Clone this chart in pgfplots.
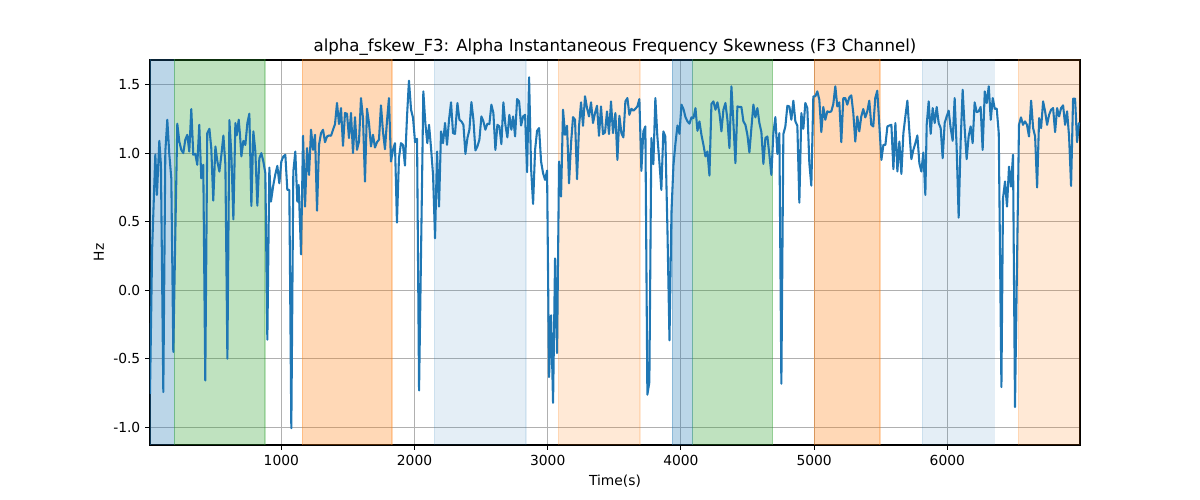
\documentclass[border=0pt]{standalone}
\usepackage{pgfplots}
\pgfplotsset{compat=1.18}
\usepackage{fontspec}
\setmainfont{DejaVu Sans}
\definecolor{tabblue}{HTML}{1F77B4}
\definecolor{taborange}{HTML}{FF7F0E}
\definecolor{tabgreen}{HTML}{2CA02C}
\definecolor{gridgray}{HTML}{B0B0B0}
\pgfplotstableread{
x y
14 -0.756
30 0.30
54 0.99
66 0.695
84 1.09
96 0.915
114 -0.744
129 1.01
144 1.244
159 0.99
174 0.817
189 -0.451
204 0.40
219 1.215
234 1.085
249 1.024
264 1.0
279 1.098
294 1.134
309 1.012
324 1.322
339 0.988
354 0.995
369 0.915
384 1.207
399 0.817
414 0.915
429 -0.659
444 1.146
460 1.178
474 1.037
489 0.654
505 1.049
520 0.939
535 0.866
550 0.988
565 1.129
580 0.915
595 -0.5
610 1.241
625 0.988
640 0.517
655 1.22
665 1.13
680 1.244
690 1.13
700 0.976
715 1.09
730 1.06
745 1.22
760 1.288
775 0.615
790 1.159
805 1.012
820 0.617
835 0.963
850 1.0
865 0.939
880 0.854
895 -0.361
910 0.895
922 0.646
940 0.768
955 0.846
970 0.907
985 0.78
1000 0.939
1015 0.976
1030 0.988
1045 0.732
1060 0.732
1075 -1.007
1090 0.866
1105 1.012
1120 0.646
1130 0.768
1148 0.261
1163 1.127
1178 0.61
1193 1.037
1208 0.841
1223 1.171
1238 1.024
1253 1.134
1268 0.58
1283 1.061
1298 1.146
1313 1.171
1328 1.08
1343 1.122
1358 1.129
1373 1.127
1388 1.171
1403 1.212
1418 1.366
1433 1.212
1448 1.329
1463 1.054
1478 1.293
1493 1.288
1508 1.11
1523 1.293
1538 1.0
1553 1.263
1568 1.024
1583 1.085
1598 1.402
1613 1.256
1628 0.793
1643 1.324
1658 1.22
1673 1.049
1688 1.134
1703 1.041
1718 1.08
1733 1.098
1748 1.349
1763 1.159
1778 1.029
1793 1.232
1808 1.402
1823 0.939
1838 1.024
1853 1.073
1868 0.493
1883 0.963
1898 1.073
1913 1.061
1928 0.91
1943 1.256
1958 1.529
1974 1.317
1989 1.256
2004 1.08
2019 1.105
2034 -0.732
2050 0.35
2066 1.451
2081 1.22
2096 1.073
2109 1.207
2124 1.037
2139 0.841
2154 0.378
2169 1.012
2184 0.61
2199 1.159
2214 1.073
2229 1.22
2244 1.061
2259 1.244
2274 1.371
2289 1.146
2304 1.141
2322 1.366
2337 1.244
2352 1.232
2367 1.207
2382 0.995
2397 1.11
2412 1.171
2427 1.373
2442 1.244
2457 1.02
2472 1.049
2487 1.098
2502 1.268
2517 1.232
2532 1.171
2547 1.215
2562 1.212
2577 1.354
2592 1.293
2607 1.024
2622 1.207
2637 1.195
2652 1.066
2667 1.371
2682 1.207
2697 1.115
2712 1.28
2727 1.171
2740 1.268
2755 1.122
2770 1.395
2785 1.378
2800 1.202
2815 1.268
2830 1.28
2845 0.861
2860 1.554
2875 0.89
2890 0.629
2905 1.024
2920 1.163
2935 1.183
2950 0.939
2965 0.854
2980 0.805
2995 0.873
3010 -0.634
3025 -0.183
3040 -0.822
3055 0.232
3070 -0.459
3085 0.939
3100 0.683
3115 1.317
3130 1.134
3145 1.2
3160 0.78
3175 1.073
3190 1.263
3205 1.244
3220 0.81
3235 1.195
3250 1.371
3265 1.2
3280 1.415
3295 1.329
3310 1.268
3325 1.371
3340 1.22
3355 1.293
3370 1.346
3385 1.127
3400 1.341
3415 1.139
3430 1.151
3445 1.305
3460 1.139
3475 1.378
3490 1.146
3508 1.293
3523 0.951
3538 1.273
3553 1.146
3568 1.115
3583 1.378
3598 1.402
3613 1.28
3628 1.324
3643 1.31
3658 1.324
3673 1.341
3688 1.395
3703 0.871
3718 1.159
3733 1.195
3748 -0.763
3763 -0.671
3778 1.11
3793 0.92
3808 1.402
3823 1.122
3838 0.939
3853 0.732
3868 1.159
3883 1.122
3899 0.427
3914 -0.366
3929 0.573
3944 0.915
3959 1.073
3974 1.202
3989 1.141
4004 1.354
4019 1.322
4034 1.263
4049 1.232
4064 1.215
4079 1.261
4094 1.256
4109 1.329
4124 1.163
4139 1.232
4154 1.134
4169 1.061
4184 0.976
4199 1.012
4214 0.837
4229 1.359
4244 1.378
4259 1.317
4274 1.371
4289 1.293
4304 1.159
4319 1.317
4334 1.366
4349 1.244
4364 1.037
4379 1.488
4394 1.22
4409 0.927
4424 1.341
4439 1.337
4454 1.337
4469 1.232
4484 1.207
4499 1.134
4514 1.005
4529 1.183
4544 1.354
4559 1.261
4574 1.329
4589 1.22
4604 1.154
4619 0.922
4634 1.11
4649 1.122
4664 0.988
4679 0.841
4694 1.146
4709 1.263
4724 0.995
4739 1.146
4754 -0.683
4769 1.139
4784 1.195
4799 1.346
4814 1.341
4829 1.244
4844 1.383
4859 1.232
4874 1.2
4889 0.639
4904 1.293
4919 1.178
4934 1.366
4949 1.329
4964 0.927
4979 0.763
4994 1.415
5009 1.415
5024 1.451
5039 1.39
5054 1.154
5069 1.337
5084 1.244
5099 1.305
5114 1.3
5129 1.305
5144 1.359
5159 1.488
5174 1.341
5189 1.371
5204 1.08
5219 1.402
5234 1.402
5249 1.354
5264 1.407
5279 1.422
5294 1.293
5309 1.085
5324 1.268
5339 1.159
5354 1.268
5369 1.322
5384 1.261
5399 1.305
5414 1.383
5429 1.207
5444 1.195
5459 1.402
5474 1.456
5490 1.195
5505 0.951
5520 1.061
5535 1.061
5550 1.195
5565 1.202
5580 1.207
5595 0.883
5610 1.22
5625 0.866
5640 1.085
5655 0.849
5670 1.146
5685 1.268
5700 1.383
5715 1.159
5730 0.956
5745 1.024
5760 1.073
5775 1.129
5790 0.927
5805 0.866
5820 1.005
5835 0.695
5845 1.207
5860 1.378
5875 1.141
5890 1.329
5905 1.22
5920 1.337
5935 1.22
5950 1.183
5965 0.963
5980 1.22
5995 1.268
6010 1.31
6025 1.183
6040 1.09
6055 1.402
6070 1.037
6085 0.529
6100 1.085
6115 1.463
6130 1.183
6145 0.956
6160 1.122
6175 1.195
6190 1.073
6205 1.371
6220 1.3
6235 1.305
6250 1.337
6265 1.024
6281 1.451
6296 1.366
6311 1.488
6326 1.244
6341 1.402
6356 1.324
6371 1.324
6386 1.146
6406 -0.707
6418 0.671
6433 0.793
6448 0.61
6463 0.902
6478 0.756
6493 0.988
6508 -0.854
6523 0.183
6538 1.207
6553 1.261
6568 1.207
6583 1.232
6598 1.207
6613 1.122
6629 1.383
6644 1.183
6659 1.122
6674 0.749
6689 1.256
6704 1.183
6719 1.378
6734 1.305
6749 1.207
6764 1.28
6779 1.317
6794 1.329
6809 1.154
6824 1.329
6839 1.268
6854 1.329
6869 1.349
6884 1.207
6899 1.305
6914 1.122
6929 0.761
6944 1.398
6959 1.398
6974 1.08
6989 1.224
}\datatable
\begin{document}
\begin{tikzpicture}
\begin{axis}[
  name=ax,
  scale only axis,
  width=9.3in, height=3.85in,
  xmin=14, xmax=6996, ymin=-1.13, ymax=1.68,
  xtick={1000,2000,3000,4000,5000,6000},
  ytick={-1,-0.5,0,0.5,1,1.5},
  yticklabel style={/pgf/number format/.cd,fixed,fixed zerofill,precision=1},
  xticklabel style={/pgf/number format/.cd,1000 sep={}},
  /pgf/number format/assume math mode=true,
  tick label style={font=\fontsize{10}{12}\selectfont},
  grid=major,
  major grid style={gridgray, line width=0.8pt},
  axis line style={line width=0.8pt},
  tick style={black, line width=0.8pt},
  tick align=outside,
  major tick length=3.5pt,
  xtick pos=bottom, ytick pos=left,
  title={alpha\_fskew\_F3: Alpha Instantaneous Frequency Skewness (F3 Channel)},
  title style={font=\fontsize{12}{14}\selectfont, yshift=-6.5pt},
  xlabel={Time(s)}, ylabel={Hz},
  label style={font=\fontsize{10}{12}\selectfont},
  clip=true,
]
\filldraw[tabblue, fill opacity=0.3, draw opacity=0.3, line width=1pt] (axis cs:14,-1.2) rectangle (axis cs:197,1.75);
\filldraw[tabgreen, fill opacity=0.3, draw opacity=0.3, line width=1pt] (axis cs:197,-1.2) rectangle (axis cs:877,1.75);
\filldraw[taborange, fill opacity=0.3, draw opacity=0.3, line width=1pt] (axis cs:1157,-1.2) rectangle (axis cs:1831,1.75);
\filldraw[tabblue, fill opacity=0.12, draw opacity=0.12, line width=1pt] (axis cs:2149,-1.2) rectangle (axis cs:2838,1.75);
\filldraw[taborange, fill opacity=0.17, draw opacity=0.17, line width=1pt] (axis cs:3080,-1.2) rectangle (axis cs:3693,1.75);
\filldraw[tabblue, fill opacity=0.3, draw opacity=0.3, line width=1pt] (axis cs:3936,-1.2) rectangle (axis cs:4089,1.75);
\filldraw[tabgreen, fill opacity=0.3, draw opacity=0.3, line width=1pt] (axis cs:4089,-1.2) rectangle (axis cs:4689,1.75);
\filldraw[taborange, fill opacity=0.3, draw opacity=0.3, line width=1pt] (axis cs:5001,-1.2) rectangle (axis cs:5495,1.75);
\filldraw[tabblue, fill opacity=0.12, draw opacity=0.12, line width=1pt] (axis cs:5813,-1.2) rectangle (axis cs:6353,1.75);
\filldraw[taborange, fill opacity=0.17, draw opacity=0.17, line width=1pt] (axis cs:6533,-1.2) rectangle (axis cs:7100,1.75);
\addplot[tabblue, line width=1.5pt, line join=round, no markers] table[x=x,y=y] {\datatable};
\end{axis}
\path ([xshift=-1.5in,yshift=-0.55in]ax.south west) rectangle ([xshift=1.2in,yshift=0.6in]ax.north east);
\end{tikzpicture}
\end{document}
